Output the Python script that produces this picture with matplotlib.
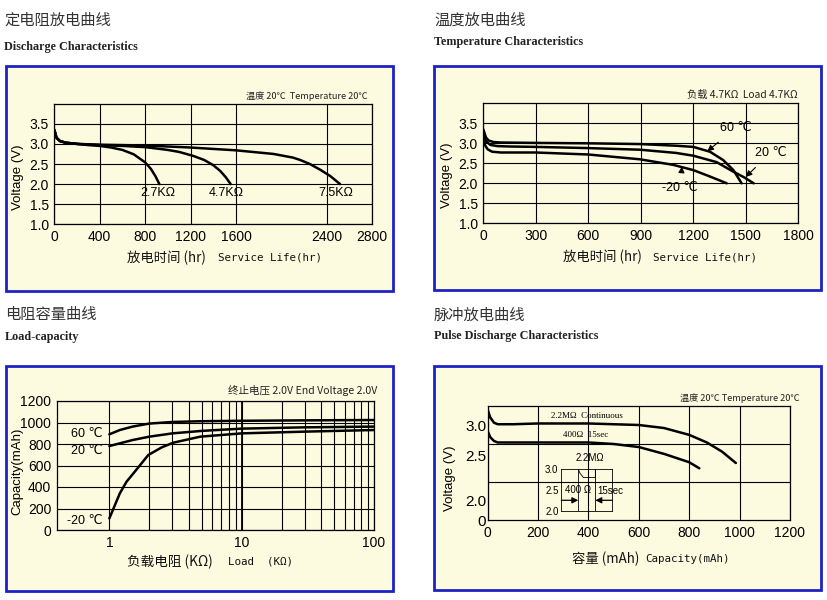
import matplotlib
matplotlib.use('Agg')
import matplotlib.pyplot as plt
from matplotlib.patches import Rectangle

# ---------------- data ----------------
# Panel 1: Discharge characteristics (constant resistance)
hours_27k = [0, 20, 50, 100, 200, 300, 400, 500, 600, 700, 800, 850, 890, 925]
volt_27k = [3.35, 3.15, 3.07, 3.03, 3.0, 2.97, 2.95, 2.91, 2.85, 2.74, 2.54, 2.38, 2.2, 2.0]
hours_47k = [0, 20, 50, 100, 200, 400, 600, 800, 1000, 1100, 1225, 1320, 1400, 1460, 1510, 1553]
volt_47k = [3.35, 3.15, 3.07, 3.03, 3.0, 2.97, 2.95, 2.92, 2.85, 2.8, 2.7, 2.6, 2.47, 2.33, 2.17, 2.0]
hours_75k = [0, 20, 50, 100, 200, 400, 800, 1200, 1600, 1930, 2100, 2165, 2250, 2340, 2430, 2516]
volt_75k = [3.35, 3.15, 3.07, 3.03, 3.0, 2.98, 2.96, 2.91, 2.84, 2.75, 2.66, 2.6, 2.5, 2.36, 2.2, 2.0]
p1_xticks = [0, 400, 800, 1200, 1600, 2400, 2800]
volt_ticks = [1.0, 1.5, 2.0, 2.5, 3.0, 3.5]

# Panel 2: Temperature characteristics
hours_60c = [0, 15, 30, 60, 100, 300, 600, 900, 1100, 1200, 1295, 1371, 1429, 1476]
volt_60c = [3.35, 3.15, 3.07, 3.03, 3.02, 3.01, 3.0, 2.98, 2.94, 2.91, 2.79, 2.58, 2.33, 2.0]
hours_20c = [0, 15, 40, 80, 150, 300, 600, 895, 1100, 1200, 1333, 1429, 1490, 1545]
volt_20c = [3.3, 3.05, 2.96, 2.93, 2.92, 2.91, 2.88, 2.84, 2.76, 2.69, 2.53, 2.29, 2.15, 2.0]
hours_m20c = [0, 10, 25, 50, 100, 300, 600, 895, 1086, 1200, 1295, 1391]
volt_m20c = [3.2, 2.95, 2.85, 2.79, 2.77, 2.77, 2.72, 2.6, 2.46, 2.33, 2.17, 2.0]
p2_xticks = [0, 300, 600, 900, 1200, 1500, 1800]

# Panel 3: Load-capacity
load_60c = [1, 1.2, 1.5, 2, 3, 5, 10, 30, 100]
cap_60c = [890, 930, 962, 990, 1005, 1012, 1016, 1020, 1023]
load_20c = [1, 1.5, 2, 3, 5, 10, 30, 100]
cap_20c = [781, 837, 868, 899, 922, 943, 955, 962]
load_m20c = [1, 1.1, 1.2, 1.35, 1.52, 1.75, 1.97, 2.5, 3.04, 4.85, 10, 30, 100]
cap_m20c = [108, 230, 341, 450, 527, 620, 698, 770, 812, 868, 899, 915, 930]
cap_ticks = [0, 200, 400, 600, 800, 1000, 1200]
load_major = [1, 10, 100]
load_minor = [2, 3, 4, 5, 6, 7, 8, 9, 20, 30, 40, 50, 60, 70, 80, 90]

# Panel 4: Pulse discharge
cap_cont = [0, 10, 25, 40, 100, 200, 400, 600, 700, 800, 870, 930, 985]
volt_cont = [3.2, 3.1, 3.03, 3.01, 3.01, 3.02, 3.02, 3.0, 2.96, 2.87, 2.77, 2.65, 2.5]
cap_pulse = [0, 10, 25, 40, 100, 400, 500, 600, 700, 800, 840]
volt_pulse = [2.92, 2.84, 2.79, 2.77, 2.77, 2.77, 2.75, 2.71, 2.62, 2.51, 2.43]
p4_xticks = [0, 200, 400, 600, 800, 1000, 1200]
p4_yticks = [1.75, 2.0, 2.5, 3.0]
p4_ylabels = ['0', '2.0', '2.5', '3.0']
p4_ygrid = [2.0, 2.25, 2.5, 2.75, 3.0]
# inset pulse sketch
inset_ticks = [2.0, 2.5, 3.0]
inset_cols = [1, 2]
inset_pulse_x = [1.0, 1.1, 1.3, 2.0, 2.0]
inset_pulse_y = [3.0, 2.9, 2.8, 2.8, 3.0]

# ---------------- style ----------------
W, H = 828, 600
fig = plt.figure(figsize=(8.28, 6.0), dpi=100)
fig.patch.set_facecolor('white')
plt.rcParams['font.family'] = ['Liberation Sans', 'DejaVu Sans', 'Noto Sans CJK SC']

BG = '#fdfbdf'
BLUE = '#1e22c4'
CJK = ['Noto Sans CJK SC', 'DejaVu Sans']
MONO = ['DejaVu Sans Mono', 'Noto Sans CJK SC']
SERIF = ['Liberation Serif', 'DejaVu Serif']
SANS = ['Liberation Sans', 'DejaVu Sans', 'Noto Sans CJK SC']
LW = 1.8


def fx(x):
    return x / W


def fy(y):
    return 1 - y / H


def px_ax(l, t, r, b):
    return fig.add_axes([l / W, 1 - b / H, (r - l) / W, (b - t) / H])


def frame(l, t, r, b):
    fig.add_artist(Rectangle((l / W, 1 - b / H), (r - l) / W, (b - t) / H,
                             transform=fig.transFigure, facecolor=BG,
                             edgecolor=BLUE, lw=2.0, zorder=-5))


def style(ax):
    ax.set_facecolor(BG)
    for s in ax.spines.values():
        s.set_linewidth(0.9)
        s.set_color('black')
    ax.tick_params(length=0, labelsize=10, pad=4)
    ax.set_axisbelow(True)


def titles(x, y1, y2, cn, en):
    fig.text(fx(x), fy(y1), cn, family=CJK, fontsize=11, color='#333333', va='center', ha='left')
    fig.text(fx(x), fy(y2), en, family=SERIF, fontsize=8.7, fontweight='bold', color='#222222',
             va='center', ha='left')


def xlab(xcn, xen, y, cn, en, size=9.6):
    fig.text(fx(xcn), fy(y), cn, family=CJK, fontsize=size, va='center', ha='left', color='#111111')
    fig.text(fx(xen), fy(y), en, family=MONO, fontsize=7.8, va='center', ha='left', color='#111111')


def ylab(x, y, s):
    fig.text(fx(x), fy(y), s, rotation=90, fontsize=9.5, va='center', ha='center', family=SANS)


def note(xr, y, s, size):
    fig.text(fx(xr), fy(y), s, family=CJK, fontsize=size, va='center', ha='right', color='#222222')


# ---------------- Panel 1 ----------------
frame(6, 66, 393, 291)
titles(4, 20, 47, '定电阻放电曲线', 'Discharge Characteristics')
ax1 = px_ax(54.3, 103.7, 372.3, 224.3)
style(ax1)
ax1.set_xlim(0, 2800)
ax1.set_ylim(1.0, 4.0)
ax1.set_xticks(p1_xticks)
ax1.set_yticks(volt_ticks)
ax1.set_yticklabels(['%.1f' % v for v in volt_ticks])
ax1.grid(True, color='black', lw=0.8)
for hx, vy in [(hours_27k, volt_27k), (hours_47k, volt_47k), (hours_75k, volt_75k)]:
    ax1.plot(hx, vy, color='black', lw=LW, solid_capstyle='round')
ax1.text(hours_27k[-1] - 10, 1.79, '2.7KΩ', fontsize=9, ha='center', va='center')
ax1.text(hours_47k[-1] - 40, 1.79, '4.7KΩ', fontsize=9, ha='center', va='center')
ax1.text(hours_75k[-1] - 40, 1.79, '7.5KΩ', fontsize=9, ha='center', va='center')
note(368, 96, '温度 20℃  Temperature 20℃', 6.6)
xlab(127, 218, 258, '放电时间 (hr)', 'Service Life(hr)')
ylab(18, 177, 'Voltage (V)')

# ---------------- Panel 2 ----------------
frame(434, 66, 821, 290)
titles(434, 20, 42, '温度放电曲线', 'Temperature Characteristics')
ax2 = px_ax(483.3, 103.3, 798.3, 223.3)
style(ax2)
ax2.set_xlim(0, 1800)
ax2.set_ylim(1.0, 4.0)
ax2.set_xticks(p2_xticks)
ax2.set_yticks(volt_ticks)
ax2.set_yticklabels(['%.1f' % v for v in volt_ticks])
ax2.grid(True, color='black', lw=0.8)
for hx, vy in [(hours_60c, volt_60c), (hours_20c, volt_20c), (hours_m20c, volt_m20c)]:
    ax2.plot(hx, vy, color='black', lw=LW, solid_capstyle='round')
arrow = dict(arrowstyle='-|>', color='black', lw=0.8, mutation_scale=9)
ax2.annotate('60 ℃', xy=(1280, 2.8), xytext=(1440, 3.38), fontsize=9, ha='center', va='center',
             arrowprops=dict(arrow, shrinkA=6, shrinkB=0))
ax2.annotate('20 ℃', xy=(1500, 2.16), xytext=(1640, 2.76), fontsize=9, ha='center', va='center',
             arrowprops=dict(arrow, shrinkA=6, shrinkB=0))
ax2.annotate('-20 ℃', xy=(1135, 2.42), xytext=(1125, 1.88), fontsize=9, ha='center', va='center',
             arrowprops=dict(arrow, shrinkA=7, shrinkB=0))
note(798, 95, '负载 4.7KΩ  Load 4.7KΩ', 7.4)
xlab(563, 653, 257, '放电时间 (hr)', 'Service Life(hr)')
ylab(447, 175, 'Voltage (V)')

# ---------------- Panel 3 ----------------
frame(6, 366, 393, 591)
titles(5, 315, 337, '电阻容量曲线', 'Load-capacity')
ax3 = px_ax(56.7, 401, 374, 530)
style(ax3)
ax3.set_xscale('log')
ax3.set_xlim(0.4, 100)
ax3.set_ylim(0, 1200)
ax3.set_xticks(load_major)
ax3.set_xticklabels([str(v) for v in load_major])
ax3.set_xticks(load_minor, minor=True)
ax3.set_xticklabels([], minor=True)
ax3.tick_params(which='minor', length=0)
ax3.set_yticks(cap_ticks)
ax3.set_yticklabels([str(v) for v in cap_ticks])
ax3.grid(True, which='both', axis='x', color='black', lw=0.8)
ax3.grid(True, which='major', axis='y', color='black', lw=0.8)
ax3.axvline(10, color='black', lw=1.3, zorder=0.5)
for lx, cy in [(load_60c, cap_60c), (load_20c, cap_20c), (load_m20c, cap_m20c)]:
    ax3.plot(lx, cy, color='black', lw=LW, solid_capstyle='round')
ax3.text(0.88, cap_60c[0], '60 ℃', fontsize=9, ha='right', va='center')
ax3.text(0.88, cap_20c[0] - 45, '20 ℃', fontsize=9, ha='right', va='center')
ax3.text(0.88, cap_m20c[0] - 25, '-20 ℃', fontsize=9, ha='right', va='center')
note(377, 391, '终止电压 2.0V End Voltage 2.0V', 7.6)
xlab(127, 228, 562, '负载电阻 (KΩ)', 'Load  (KΩ)', size=9.8)
ylab(17, 471, 'Capacity(mAh)')

# ---------------- Panel 4 ----------------
frame(434, 366, 821, 590)
titles(434, 315, 336, '脉冲放电曲线', 'Pulse Discharge Characteristics')
ax4 = px_ax(487.7, 406, 790, 520)
style(ax4)
ax4.set_xlim(0, 1200)
ax4.set_ylim(1.75, 3.25)
ax4.set_xticks(p4_xticks)
ax4.set_yticks(p4_yticks)
ax4.set_yticklabels(['' if s == '2.5' else s for s in p4_ylabels])
ax4.set_yticks(p4_ygrid, minor=True)
ax4.tick_params(axis='y', labelsize=11, pad=1)
ax4.tick_params(which='minor', length=0)
ax4.grid(True, which='major', axis='x', color='black', lw=0.8)
ax4.grid(True, which='minor', axis='y', color='black', lw=0.8)
# the reference prints "2.5" a little above its gridline
ax4.annotate('2.5', xy=(0, 2.5), xycoords=('axes fraction', 'data'), xytext=(-1, 4.5),
             textcoords='offset points', ha='right', va='center', fontsize=11)
ax4.plot(cap_cont, volt_cont, color='black', lw=LW, solid_capstyle='round')
ax4.plot(cap_pulse, volt_pulse, color='black', lw=LW, solid_capstyle='round')
ax4.text(253, 3.12, '2.2MΩ  Continuous', family=SERIF, fontsize=6.5, ha='left', va='center')
ax4.text(297, 2.87, '400Ω  15sec', family=SERIF, fontsize=6.5, ha='left', va='center')
note(800, 398, '温度 20℃ Temperature 20℃', 6.6)
xlab(572, 645, 559, '容量 (mAh)', 'Capacity(mAh)')
ylab(450, 478, 'Voltage (V)')

# inset sketch
ins = ax4.inset_axes([292, 1.865, 203, 0.555], transform=ax4.transData)
ins.set_facecolor('none')
ins.set_xlim(0, 3)
ins.set_ylim(2.0, 3.0)
for s in ins.spines.values():
    s.set_linewidth(0.6)
ins.set_xticks([])
ins.set_yticks(inset_ticks)
ins.set_yticklabels(['%.1f' % v for v in inset_ticks])
ins.tick_params(length=0, labelsize=7, pad=2)
for c in inset_cols:
    ins.axvline(c, color='black', lw=0.6)
ins.plot(inset_pulse_x, inset_pulse_y, color='black', lw=0.6)
ins.annotate('', xy=(1, 2.26), xytext=(0, 2.26),
             arrowprops=dict(arrowstyle='-|>', color='black', lw=0.9, mutation_scale=9, shrinkA=0, shrinkB=0))
ins.annotate('', xy=(2, 2.26), xytext=(3, 2.26),
             arrowprops=dict(arrowstyle='-|>', color='black', lw=0.9, mutation_scale=9, shrinkA=0, shrinkB=0))
ins.text(0.2, 2.5, '400 Ω', fontsize=7, ha='left', va='center', family=SANS)
ins.text(2.1, 2.48, '15sec', fontsize=7, ha='left', va='center', family=SANS, clip_on=False)
ins.text(1.65, 3.26, '2.2MΩ', fontsize=7, ha='center', va='center', family=SANS, clip_on=False)

fig.savefig('out.png', dpi=100, facecolor='white')
